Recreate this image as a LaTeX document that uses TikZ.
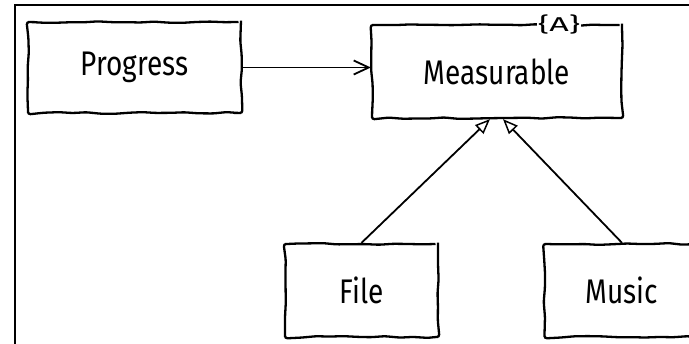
\documentclass[tikz,border=0pt]{standalone}
\usepackage{fontspec}
\setmainfont{Fira Sans}
\usetikzlibrary{arrows.meta,decorations.pathmorphing}
\newcommand{\tallText}[1]{\scalebox{1}[1.22]{#1}}
\begin{document}
\begin{tikzpicture}[x=1pt,y=-1pt,
  sketch/.style={decorate, decoration={random steps, segment length=14pt, amplitude=0.9pt}, rounded corners=2.5pt},
  box/.style={draw, line width=2.3pt, sketch, inner sep=0pt, font=\fontsize{28}{30}\selectfont},
  conn/.style={line width=1.8pt},
  tag/.style={fill=white, inner sep=1.5pt, font=\fontsize{20}{20}\selectfont}]
\pgfmathsetseed{7}
\useasboundingbox (0,0) rectangle (689,344);
\clip (0,0) rectangle (689,344);
\fill[white] (0,0) rectangle (689,344);
% outer frame
\draw[line width=2.2pt] (15,360) -- (15,5) -- (720,5);
% boxes
\node[box, minimum width=213pt, minimum height=91pt] (prog) at (134.5,67.5) {\tallText{Progress}};
\node[box, minimum width=250pt, minimum height=93pt] (meas) at (497,71.5) {\tallText{Measurable}};
\node[tag] (abs) at (559,25) {\scalebox{1.7}[1]{\{A\}}};
\node[box, minimum width=153pt, minimum height=93pt] (file) at (361.5,290.5) {\tallText{File}};
\node[box, minimum width=155pt, minimum height=93pt] (music) at (622,290.5) {\tallText{Music}};
% connectors
\draw[conn, -{Straight Barb[length=15pt,width=14pt,line width=1.8pt]}] (prog.east) -- (prog.east -| meas.west);
\draw[conn, -{Triangle[open,length=15pt,width=12pt,line width=1.5pt]}] (file.north) -- ([xshift=-7pt]meas.south);
\draw[conn, -{Triangle[open,length=15pt,width=12pt,line width=1.5pt]}] (music.north) -- ([xshift=6pt]meas.south);
\end{tikzpicture}
\end{document}
